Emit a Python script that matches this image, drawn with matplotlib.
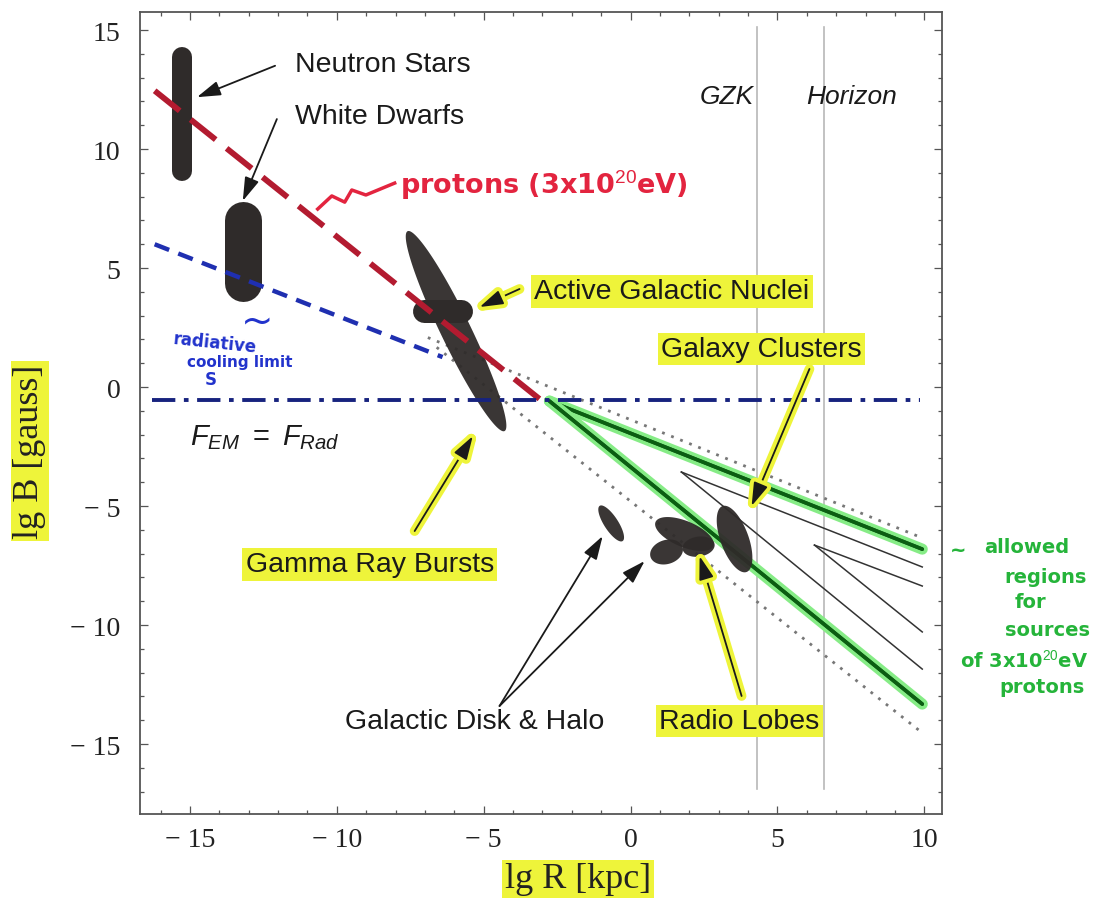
import numpy as np
import matplotlib.pyplot as plt
import matplotlib.patheffects as pe
from matplotlib.ticker import MultipleLocator

plt.rcParams['mathtext.fontset'] = 'custom'
plt.rcParams['mathtext.it'] = 'Liberation Sans:italic'
plt.rcParams['mathtext.rm'] = 'Liberation Sans'

# axis ticks
xticks = [-15, -10, -5, 0, 5, 10]
xticklabels = ['\u2212 15', '\u2212 10', '\u2212 5', '0', '5', '10']
yticks = [-15, -10, -5, 0, 5, 10, 15]
yticklabels = ['\u2212 15', '\u2212 10', '\u2212 5', '0', '5', '10', '15']

# limit lines: lg B vs lg R
proton_x = [-16.2, -3.1]
proton_y = [12.45, -0.5]
cooling_x = [-16.2, -6.4]
cooling_y = [6.0, 1.26]
balance_x = [-16.3, 9.85]
balance_y = [-0.55, -0.55]

# allowed-region boundaries (green) and the parallel dotted / thin lines
green_start = (-2.76, -0.59)
green_ends_x = [9.93, 9.93]
green_ends_y = [-6.81, -13.32]
dotted_x = [[-6.9, 9.93], [-6.6, 9.93]]
dotted_y = [[2.08, -6.34], [1.67, -14.53]]
thin_apex = [(1.73, -3.57), (6.26, -6.64)]
thin_ends_y = [[-7.56, -11.85], [-8.36, -10.29]]
thin_end_x = 9.93

# GZK distance and horizon
gzk_x = 4.29
horizon_x = 6.6
vline_y = [-16.9, 15.13]

# source regions drawn as rounded bars: x, y_low, y_high, width (px)
bars = {
    'Neutron Stars': (-15.27, 9.08, 13.87, 20),
    'White Dwarfs': (-13.18, 4.37, 7.02, 37),
}
agn_bar_x = [-7.04, -5.78]
agn_bar_y = [3.19, 3.19]

# source regions drawn as ellipses: end points of the long axis, half width (px)
blobs = [
    ((-7.59, 6.55), (-4.29, -1.85), 15),   # AGN / GRB
    ((-1.05, -4.99), (-0.27, -6.47), 7),   # galactic disk
    ((0.85, -5.67), (2.82, -6.68), 13),    # radio lobes
    ((0.68, -7.14), (1.77, -6.72), 12),
    ((1.77, -6.81), (2.86, -6.60), 10),
    ((3.13, -5.0), (3.95, -7.77), 14),     # galaxy clusters
]

yellow = '#eef43a'
blob_col = '#2f2b2a'

fig = plt.figure(figsize=(11.1, 9.2), dpi=100)
ax = fig.add_axes([0.1261, 0.1141, 0.7225, 0.8718])
ax.set_xlim(-16.7, 10.6)
ax.set_ylim(-17.94, 15.76)


def blob(p0, p1, half_w, **kw):
    # ellipse with given long axis, width fixed in screen pixels
    d0, d1 = ax.transData.transform([p0, p1])
    c = (d0 + d1) / 2
    u = (d1 - d0) / 2
    n = np.array([-u[1], u[0]]) / np.hypot(*u) * half_w
    t = np.linspace(0, 2 * np.pi, 120)
    pts = c + np.outer(np.cos(t), u) + np.outer(np.sin(t), n)
    xs, ys = ax.transData.inverted().transform(pts).T
    ax.fill(xs, ys, **kw)


# vertical distance markers
for xv in (gzk_x, horizon_x):
    ax.plot([xv, xv], vline_y, color='#b8b8b8', lw=1.2, zorder=1)

# dotted guides
for xs, ys in zip(dotted_x, dotted_y):
    ax.plot(xs, ys, color='#777777', lw=2, dashes=(1, 2.5), zorder=2)

# thin wedges
for (ax0, ay0), ends in zip(thin_apex, thin_ends_y):
    for ye in ends:
        ax.plot([ax0, thin_end_x], [ay0, ye], color='#333333', lw=1.1, zorder=2)

# green boundaries with glow
for xe, ye in zip(green_ends_x, green_ends_y):
    ax.plot([green_start[0], xe], [green_start[1], ye], color='#0b5e12', lw=2.6,
            solid_capstyle='round', zorder=2,
            path_effects=[pe.withStroke(linewidth=8, foreground='#86ec86'), pe.Normal()])

# source regions
for name, (bx, y0, y1, w) in bars.items():
    ax.plot([bx, bx], [y0, y1], color=blob_col, lw=w * 0.72,
            solid_capstyle='round', zorder=3)
for p0, p1, hw in blobs:
    blob(p0, p1, hw, color=blob_col, alpha=0.95, zorder=3, lw=0)
ax.plot(agn_bar_x, agn_bar_y, color=blob_col, lw=23 * 0.72,
        solid_capstyle='round', zorder=3)

# limit lines
ax.plot(proton_x, proton_y, color='#b31b30', lw=4.2, dashes=(5.5, 2.4), zorder=4)
ax.plot(cooling_x, cooling_y, color='#1f2fb0', lw=3.2, dashes=(3.5, 2.2), zorder=4)
ax.plot(balance_x, balance_y, color='#17237e', lw=2.8,
        dashes=(6, 2.2, 1.2, 2.2), zorder=4)

# axes styling
ax.set_xticks(xticks)
ax.set_xticklabels(xticklabels)
ax.set_yticks(yticks)
ax.set_yticklabels(yticklabels)
ax.xaxis.set_minor_locator(MultipleLocator(1))
ax.yaxis.set_minor_locator(MultipleLocator(1))
ax.tick_params(which='both', direction='in', top=True, right=True,
               color='#555555', width=0.9)
ax.tick_params(which='major', length=6)
ax.tick_params(which='minor', length=3)
ax.tick_params(axis='x', pad=9)
ax.tick_params(axis='y', pad=14)
for lab in ax.get_xticklabels() + ax.get_yticklabels():
    lab.set_fontfamily('Liberation Serif')
    lab.set_fontsize(20)
    lab.set_color('#222222')
for sp in ax.spines.values():
    sp.set_color('#555555')
    sp.set_linewidth(1.3)

fig.text(578 / 1110, 1 - 880 / 920, 'lg R [kpc]', ha='center', va='center',
         fontfamily='Liberation Serif', fontsize=26, color='#222222',
         bbox=dict(boxstyle='square,pad=0.08', fc=yellow, ec='none'))
fig.text(30 / 1110, 1 - 452 / 920, 'lg B [gauss]', ha='center', va='center',
         rotation=90, fontfamily='Liberation Serif', fontsize=26, color='#222222',
         bbox=dict(boxstyle='square,pad=0.08', fc=yellow, ec='none'))

sans = 'Liberation Sans'
fs = 20.5
hl = dict(boxstyle='square,pad=0.12', fc=yellow, ec='none')


def arrow(tail, head, halo=False):
    a = ax.annotate('', xy=head, xytext=tail, zorder=5,
                    arrowprops=dict(arrowstyle='-|>,head_length=0.9,head_width=0.28',
                                    color='#1a1a1a', lw=1.3, mutation_scale=16,
                                    shrinkA=0, shrinkB=0))
    if halo:
        a.arrow_patch.set_path_effects([pe.withStroke(linewidth=7, foreground=yellow)])


ax.text(-11.43, 13.57, 'Neutron Stars', fontfamily=sans, fontsize=fs, va='center',
        color='#1a1a1a')
ax.text(-11.43, 11.39, 'White Dwarfs', fontfamily=sans, fontsize=fs, va='center',
        color='#1a1a1a')
arrow((-12.1, 13.5), (-14.76, 12.18))
arrow((-12.04, 11.26), (-13.2, 7.82))

ax.text(3.27, 12.23, 'GZK', fontfamily=sans, fontstyle='italic', fontsize=19,
        ha='center', va='center', color='#1a1a1a')
ax.text(7.52, 12.23, 'Horizon', fontfamily=sans, fontstyle='italic', fontsize=19,
        ha='center', va='center', color='#1a1a1a')

ax.text(-3.27, 4.03, 'Active Galactic Nuclei', fontfamily=sans, fontsize=fs,
        va='center', bbox=hl, zorder=6, color='#1a1a1a')
arrow((-3.78, 4.12), (-5.14, 3.36), halo=True)

ax.text(4.46, 1.6, 'Galaxy Clusters', fontfamily=sans, fontsize=fs,
        ha='center', va='center', bbox=hl, zorder=6, color='#1a1a1a')
arrow((6.09, 0.76), (4.12, -5.0), halo=True)

ax.text(-8.88, -7.44, 'Gamma Ray Bursts', fontfamily=sans, fontsize=fs,
        ha='center', va='center', bbox=hl, zorder=6, color='#1a1a1a')
arrow((-7.35, -6.05), (-5.37, -2.06), halo=True)

ax.text(-5.31, -14.03, 'Galactic Disk & Halo', fontfamily=sans, fontsize=fs,
        ha='center', va='center', color='#1a1a1a')
arrow((-4.46, -13.4), (-0.95, -6.26))
arrow((-4.46, -13.4), (0.48, -7.31))

ax.text(3.71, -14.03, 'Radio Lobes', fontfamily=sans, fontsize=fs,
        ha='center', va='center', bbox=hl, zorder=6, color='#1a1a1a')
arrow((3.78, -12.98), (2.35, -7.10), halo=True)

ax.text(-12.45, -2.1, r'$F_{EM}\ =\ F_{Rad}$', fontsize=21, ha='center',
        va='center', color='#1a1a1a')

# handwritten notes
hand = 'DejaVu Sans'
red = '#e3243f'
ax.plot([-10.65, -10.17, -9.73, -9.49, -9.01, -8.03],
        [7.48, 8.03, 7.77, 8.28, 8.07, 8.57], color=red, lw=2.5, zorder=5)
ax.text(-7.86, 8.53, r'protons (3x10$^{20}$eV)', fontfamily=hand, fontsize=19.5,
        color=red, va='center', fontweight='bold', zorder=5)

blue = '#2233cc'
ax.text(-14.15, 1.89, 'radiative', fontfamily=hand, fontsize=12, color=blue,
        ha='center', va='center', rotation=-6, fontweight='bold')
ax.text(-13.3, 1.09, 'cooling limit', fontfamily=hand, fontsize=11, color=blue,
        ha='center', va='center', fontweight='bold')
ax.text(-12.7, 2.8, '~', fontfamily=hand, fontsize=28, color=blue,
        ha='center', va='center')
ax.text(-14.3, 0.35, 'S', fontfamily=hand, fontsize=12, color=blue,
        ha='center', va='center', fontweight='bold')

green = '#25b43a'
notes = [
    (10.86, -6.8, '~'),
    (12.05, -6.72, 'allowed'),
    (12.73, -7.94, 'regions'),
    (13.07, -8.99, 'for'),
    (12.73, -10.17, 'sources'),
    (11.2, -11.43, r'of 3x10$^{20}$eV'),
    (12.56, -12.6, 'protons'),
]
for nx, ny, s in notes:
    ax.text(nx, ny, s, fontfamily=hand, fontsize=14, color=green, va='center',
            fontweight='bold')

fig.savefig('out.png', dpi=100)
